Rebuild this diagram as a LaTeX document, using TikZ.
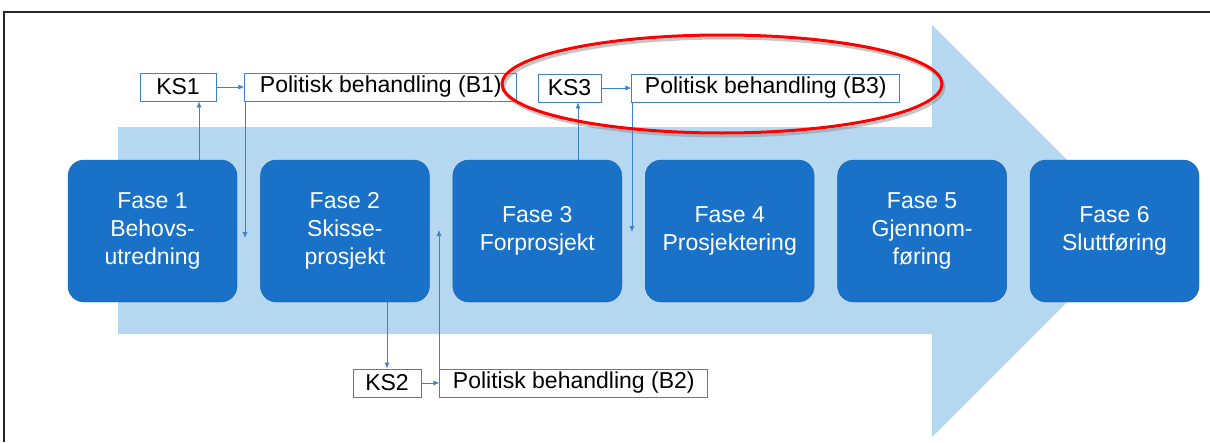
\documentclass[tikz,border=0pt]{standalone}
\usepackage{fontspec}
\setmainfont{Liberation Sans}
\usetikzlibrary{positioning, arrows.meta}
\definecolor{fasefill}{HTML}{1A72C8}
\definecolor{faseline}{HTML}{1660AA}
\definecolor{pil}{HTML}{B5D7EF}
\definecolor{linje}{HTML}{3E7FCF}

\begin{document}
\begin{tikzpicture}[x=1pt, y=-1pt, node distance={23pt},
    fase/.style = {draw=faseline, fill=fasefill, rounded corners=16pt, minimum width=169pt, minimum height=142pt, align=center, text=white, font=\fontsize{23}{28}\selectfont},
    ks/.style = {draw=linje, fill=white, line width=0.8pt, minimum height=28pt, inner xsep=0pt, font=\fontsize{23}{28}\selectfont},
    link/.style = {draw=linje, line width=0.8pt, -{Latex[length=6pt, width=5pt]}}]
    \useasboundingbox (0,0) rectangle (1210,442);
    \draw[line width=1.5pt, black!85] (4,442) -- (4,12) -- (1210,12);
    \fill[pil] (118,127) -- (932,127) -- (932,25) -- (1138,231) -- (932,437) -- (932,334) -- (118,334) -- cycle;

    \node[fase] (f1) at (152.5,231) {Fase 1\\Behovs-\\utredning};
    \node[fase] (f2) [right=of f1] {Fase 2\\Skisse-\\prosjekt};
    \node[fase] (f3) [right=of f2] {Fase 3\\Forprosjekt};
    \node[fase] (f4) [right=of f3] {Fase 4\\Prosjektering};
    \node[fase] (f5) [right=of f4] {Fase 5\\Gjennom-\\føring};
    \node[fase] (f6) [right=of f5] {Fase 6\\Sluttføring};

    \node[ks, minimum width=76pt] (ks1) at (178,87) {KS1};
    \node[ks, minimum width=272pt] (b1) [right=28pt of ks1] {Politisk behandling (B1)};
    \node[ks, minimum width=68pt] (ks2) at (387,383) {KS2};
    \node[ks, minimum width=268pt] (b2) [right=18pt of ks2] {Politisk behandling (B2)};
    \node[ks, minimum width=63pt] (ks3) at (569.5,88) {KS3};
    \node[ks, minimum width=268pt] (b3) [right=30pt of ks3] {Politisk behandling (B3)};

    \coordinate (p1) at (245,238);
    \coordinate (p2) at (439,230);
    \coordinate (p3) at (632,232);

    \draw[link] ([xshift=21pt]ks1.south |- f1.north) -- ([xshift=21pt]ks1.south);
    \draw[link] (ks1) -- (b1);
    \draw[link] (b1.south west -| p1) -- (p1);

    \draw[link] (f2.south -| ks2.north) -- (ks2);
    \draw[link] (ks2) -- (b2);
    \draw[link] (b2.north west -| p2) -- (p2);

    \draw[link] ([xshift=8.5pt]ks3.south |- f3.north) -- ([xshift=8.5pt]ks3.south);
    \draw[link] (ks3) -- (b3);
    \draw[link] (b3.south west -| p3) -- (p3);

    \draw[black!45, opacity=0.5, line width=3pt] (724,87) ellipse [x radius=220, y radius=49];
    \draw[red, line width=3pt] (722,84) ellipse [x radius=220, y radius=49];
\end{tikzpicture}
\end{document}
